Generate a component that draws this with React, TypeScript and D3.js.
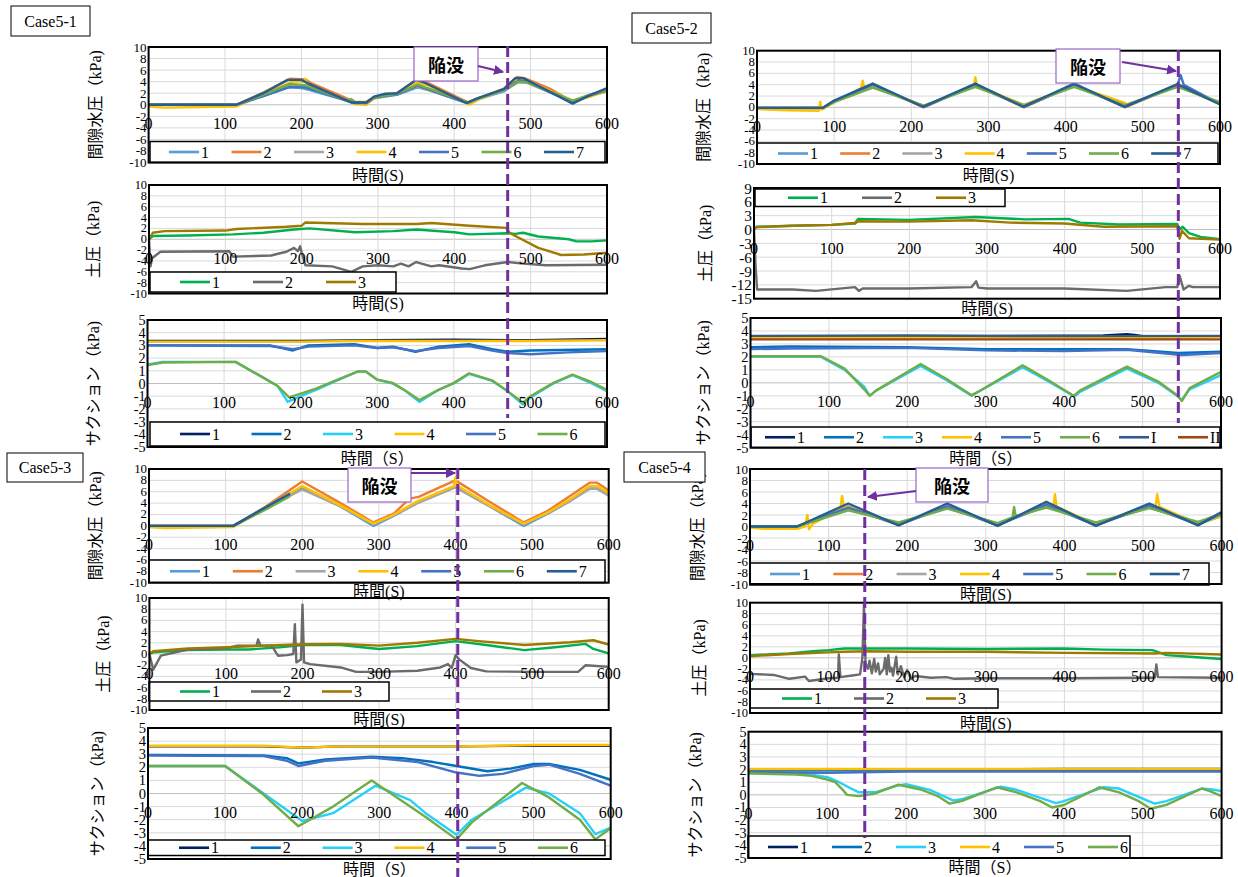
import React from "react";
import * as d3 from "d3";

type Pt = [number, number];

// ---------- axes / labels ----------
const TIME_TICKS = [0, 100, 200, 300, 400, 500, 600];
const PWP_TICKS = [-10, -8, -6, -4, -2, 0, 2, 4, 6, 8, 10];
const EP_TICKS = [-10, -8, -6, -4, -2, 0, 2, 4, 6, 8, 10];
const EP2_TICKS = [-15, -12, -9, -6, -3, 0, 3, 6, 9];
const SU_TICKS = [-5, -4, -3, -2, -1, 0, 1, 2, 3, 4, 5];

const PWP_NAMES = ["1", "2", "3", "4", "5", "6", "7"];
const PWP_COLORS = ["#5B9BD5", "#ED7D31", "#A5A5A5", "#FFC000", "#4472C4", "#70AD47", "#255E91"];
const EP_NAMES = ["1", "2", "3"];
const EP_COLORS = ["#00B050", "#6B6B6B", "#A07A00"];
const SU_NAMES = ["1", "2", "3", "4", "5", "6"];
const SU_COLORS = ["#002060", "#0070C0", "#25D0FA", "#FFC000", "#4472C4", "#70AD47"];
const SU8_NAMES = ["1", "2", "3", "4", "5", "6", "I", "II"];
const SU8_COLORS = ["#002060", "#0070C0", "#25D0FA", "#FFC000", "#4472C4", "#70AD47", "#2F5C8F", "#A0480F"];

const CASE_NAMES = ["Case5-1", "Case5-2", "Case5-3", "Case5-4"];
const COLLAPSE_TIMES = [470, 546, 403, 146];
const COLLAPSE_LABEL = "陥没";

// ---------- Case5-1 ----------
const c51_pwp1: Pt[] = [[0,0],[115,0],[150,1.5],[183,3.0],[200,2.9],[210,2.6],[270,0.3],[285,0.3],[295,1.1],[325,1.7],[352,3.0],[365,2.6],[418,0.2],[430,0.9],[465,2.3],[484,4.0],[495,3.9],[525,2.2],[555,0.4],[575,1.4],[600,2.4]];
const c51_pwp2: Pt[] = [[0,0],[115,0],[150,2.1],[185,4.5],[205,4.4],[212,3.8],[270,0.5],[285,0.5],[295,1.3],[325,2.0],[352,4.4],[362,4.0],[418,0.4],[430,1.0],[465,2.8],[482,4.8],[492,4.6],[525,2.8],[555,0.5],[575,1.6],[600,2.6]];
const c51_pwp3: Pt[] = [[0,0],[115,0],[150,1.6],[185,3.3],[205,3.1],[270,0.4],[285,0.4],[295,1.2],[325,1.8],[352,3.2],[418,0.3],[430,1.0],[465,2.5],[484,3.9],[495,3.8],[555,0.6],[575,1.5],[600,2.3]];
const c51_pwp4: Pt[] = [[0,-0.3],[20,-0.5],[115,-0.3],[150,1.8],[188,4.0],[203,4.0],[205,4.5],[208,3.6],[270,0.1],[285,0.0],[295,1.1],[325,1.9],[352,3.8],[365,3.4],[420,0.0],[430,0.8],[465,2.6],[484,4.3],[495,4.1],[555,0.7],[575,1.3],[600,2.4]];
const c51_pwp5: Pt[] = [[0,0],[115,0],[150,1.5],[185,3.1],[205,3.0],[270,0.3],[285,0.3],[295,1.2],[325,1.8],[352,3.3],[418,0.3],[430,1.0],[465,2.6],[484,4.2],[495,4.0],[555,0.4],[575,1.5],[600,2.5]];
const c51_pwp6: Pt[] = [[0,0],[115,0],[150,1.7],[185,3.6],[205,3.4],[262,0.6],[265,1.0],[270,0.5],[285,0.4],[295,1.3],[325,1.9],[352,3.5],[418,0.4],[430,1.0],[465,2.6],[484,4.0],[495,3.9],[555,0.7],[575,1.6],[600,2.6]];
const c51_pwp7: Pt[] = [[0,0],[115,0],[150,2.0],[182,4.3],[200,4.3],[210,3.6],[265,0.4],[285,0.4],[295,1.4],[310,1.9],[325,2.0],[350,4.3],[360,3.9],[416,0.3],[430,1.1],[465,2.7],[480,4.6],[490,4.6],[520,2.6],[555,0.2],[575,1.5],[600,2.9]];

const c51_ep1: Pt[] = [[0,0],[5,0.6],[50,0.7],[110,0.9],[150,1.2],[190,1.8],[210,2.0],[270,1.3],[320,1.5],[350,1.8],[400,1.3],[420,0.9],[470,1.1],[480,1.0],[490,1.2],[510,0.5],[550,0.0],[560,-0.4],[580,-0.4],[600,-0.2]];
const c51_ep2: Pt[] = [[0,0],[2,-5.0],[4,-3.5],[15,-2.3],[105,-2.2],[110,-3.2],[160,-3.0],[180,-2.3],[190,-1.6],[195,-2.2],[198,-1.3],[200,-2.5],[205,-4.8],[240,-5.0],[265,-6.0],[280,-5.0],[300,-4.8],[320,-5.0],[330,-4.5],[340,-5.0],[350,-4.2],[370,-5.0],[380,-4.8],[410,-5.4],[420,-5.5],[440,-4.8],[470,-4.2],[490,-4.5],[520,-4.8],[600,-4.7]];
const c51_ep3: Pt[] = [[0,0],[5,1.2],[20,1.5],[100,1.6],[115,1.9],[180,2.3],[200,2.5],[205,3.1],[280,2.8],[350,2.8],[370,3.0],[420,2.5],[468,2.1],[472,1.2],[480,0.6],[510,-1.6],[540,-2.9],[570,-2.8],[600,-2.5]];

const c51_s1: Pt[] = [[0,3.35],[100,3.35],[200,3.35],[300,3.4],[400,3.45],[500,3.4],[600,3.5]];
const c51_s2: Pt[] = [[0,3.0],[160,3.0],[190,2.6],[210,3.0],[270,3.1],[300,2.8],[320,2.9],[350,2.5],[380,2.9],[420,3.1],[450,2.7],[470,2.5],[500,2.6],[600,2.7]];
const c51_s3: Pt[] = [[0,1.5],[20,1.7],[115,1.7],[150,0.5],[170,-0.2],[183,-1.45],[200,-1.0],[220,-0.5],[250,0.3],[275,0.95],[285,0.95],[300,0.3],[320,0.0],[335,-0.5],[355,-1.45],[380,-0.5],[400,0.0],[420,0.75],[450,0.2],[470,-0.6],[490,-1.65],[500,-1.1],[530,0.0],[555,0.65],[580,0.0],[600,-0.6]];
const c51_s4: Pt[] = [[0,3.3],[100,3.3],[200,3.3],[280,3.35],[400,3.35],[500,3.35],[600,3.4]];
const c51_s5: Pt[] = [[0,3.0],[160,2.95],[190,2.7],[210,2.9],[270,3.0],[300,2.8],[320,2.85],[350,2.55],[380,2.8],[420,2.95],[450,2.6],[470,2.4],[500,2.3],[550,2.45],[600,2.55]];
const c51_s6: Pt[] = [[0,1.45],[20,1.65],[115,1.7],[150,0.5],[170,-0.2],[185,-1.1],[200,-0.8],[220,-0.4],[250,0.35],[275,0.95],[285,0.95],[300,0.3],[320,0.05],[335,-0.5],[355,-1.3],[380,-0.5],[400,0.05],[420,0.8],[450,0.25],[470,-0.6],[490,-1.5],[500,-1.0],[530,0.05],[555,0.7],[580,0.1],[600,-0.5]];

// ---------- Case5-2 ----------
const c52_pwp1: Pt[] = [[0,-0.1],[85,-0.1],[100,1.0],[150,3.9],[216,0.1],[283,3.9],[346,0.1],[411,3.9],[477,0.1],[545,3.8],[600,0.6]];
const c52_pwp2: Pt[] = [[0,-0.1],[85,-0.1],[100,1.1],[150,4.0],[216,0.0],[283,4.0],[346,0.0],[411,4.0],[477,0.0],[545,4.0],[600,0.6]];
const c52_pwp3: Pt[] = [[0,-0.2],[85,-0.2],[100,1.0],[150,3.8],[216,0.2],[283,3.8],[346,0.2],[411,3.8],[477,0.3],[545,3.8],[600,0.7]];
const c52_pwp4: Pt[] = [[0,-0.3],[40,-0.5],[80,-0.6],[82,1.0],[84,-0.4],[100,0.9],[135,3.4],[137,4.7],[139,3.5],[150,3.9],[216,0.2],[281,3.8],[283,5.3],[285,3.9],[346,0.4],[360,1.2],[411,3.8],[477,0.8],[480,0.4],[545,3.7],[600,0.8]];
const c52_pwp5: Pt[] = [[0,-0.1],[85,-0.1],[100,1.1],[150,4.0],[216,0.1],[283,4.0],[346,0.1],[411,4.0],[477,0.1],[545,4.0],[549,5.7],[553,4.0],[600,0.6]];
const c52_pwp6: Pt[] = [[0,-0.1],[85,-0.1],[100,0.9],[150,3.5],[216,0.3],[283,3.6],[346,0.4],[411,3.6],[477,0.4],[545,3.6],[600,0.9]];
const c52_pwp7: Pt[] = [[0,-0.1],[85,-0.1],[100,1.2],[150,4.2],[215,0.1],[283,4.2],[345,0.1],[411,4.2],[476,0.1],[545,4.1],[600,0.5]];

const c52_ep1: Pt[] = [[0,0],[3,0.6],[50,0.8],[100,1.0],[130,1.3],[134,2.3],[200,2.1],[285,2.7],[350,2.2],[405,2.3],[420,1.5],[470,1.1],[545,1.2],[548,0.0],[552,0.6],[560,-0.8],[575,-1.6],[600,-2.1]];
const c52_ep2: Pt[] = [[0,0],[2,-8],[4,-13.0],[50,-13.0],[80,-13.3],[130,-12.5],[135,-13.3],[140,-12.8],[200,-12.8],[280,-12.5],[286,-11.2],[289,-12.6],[300,-12.8],[400,-12.8],[480,-13.3],[530,-12.5],[545,-12.5],[548,-10.0],[553,-13.0],[560,-12.2],[565,-12.5],[600,-12.5]];
const c52_ep3: Pt[] = [[0,0],[3,0.5],[50,0.8],[100,1.0],[130,1.4],[135,1.8],[200,1.7],[280,2.0],[330,1.5],[400,1.3],[450,0.6],[545,0.7],[548,-2.0],[551,-0.3],[560,-1.9],[600,-2.2]];

const c52_s1: Pt[] = [[0,3.55],[100,3.6],[200,3.6],[300,3.6],[450,3.65],[480,3.75],[490,3.7],[500,3.6],[600,3.6]];
const c52_s2: Pt[] = [[0,2.75],[50,2.8],[200,2.75],[300,2.6],[400,2.6],[480,2.6],[545,2.3],[600,2.4]];
const c52_s3: Pt[] = [[0,2.0],[90,2.0],[120,1.0],[145,-0.3],[152,-1.0],[160,-0.6],[217,1.3],[250,0.2],[282,-1.0],[290,-0.7],[347,1.2],[380,0.1],[413,-1.05],[420,-0.7],[480,1.1],[520,0.0],[544,-1.0],[550,-1.3],[560,-0.5],[600,0.6]];
const c52_s4: Pt[] = [[0,3.5],[200,3.5],[400,3.5],[540,3.45],[600,3.55]];
const c52_s5: Pt[] = [[0,2.6],[50,2.65],[200,2.7],[300,2.5],[400,2.45],[480,2.55],[550,2.15],[600,2.3]];
const c52_s6: Pt[] = [[0,2.05],[90,2.05],[120,1.1],[145,-0.5],[152,-1.0],[160,-0.6],[217,1.45],[250,0.3],[282,-0.95],[290,-0.7],[347,1.35],[380,0.2],[412,-1.0],[420,-0.6],[480,1.25],[520,0.1],[544,-0.95],[550,-1.4],[560,-0.4],[600,0.85]];
const c52_sI: Pt[] = [[0,3.62],[200,3.65],[400,3.6],[600,3.62]];
const c52_sII: Pt[] = [[0,3.35],[200,3.35],[400,3.35],[600,3.35]];

// ---------- Case5-3 ----------
const c53_pwp1: Pt[] = [[0,0],[110,0],[150,2.8],[200,6.6],[250,3.4],[293,0.0],[320,1.8],[350,4.0],[400,6.8],[445,3.4],[489,0.0],[520,2.1],[550,4.4],[575,6.6],[585,6.6],[600,5.4]];
const c53_pwp2: Pt[] = [[0,0],[110,0],[150,3.2],[200,7.8],[250,4.0],[293,0.6],[320,2.2],[340,4.8],[352,5.1],[380,6.8],[400,8.0],[445,4.2],[489,0.6],[520,2.6],[550,5.3],[575,7.6],[585,7.6],[600,6.2]];
const c53_pwp3: Pt[] = [[0,0],[110,0],[150,2.9],[200,6.4],[250,3.4],[293,0.3],[320,1.9],[350,4.0],[400,6.8],[445,3.4],[489,0.3],[520,2.2],[550,4.4],[575,6.5],[585,6.5],[600,5.3]];
const c53_pwp4: Pt[] = [[0,-0.2],[20,-0.4],[110,-0.2],[150,3.0],[200,7.0],[250,3.6],[293,0.4],[320,2.0],[350,4.3],[398,7.0],[400,8.5],[402,7.1],[445,3.6],[489,0.4],[520,2.3],[550,4.7],[575,7.0],[585,7.0],[600,5.8]];
const c53_pwp5: Pt[] = [[0,0],[110,0],[150,3.0],[184,5.5]];
const c53_pwp6: Pt[] = [[0,0],[110,0],[150,2.7],[184,5.2]];
const c53_pwp7: Pt[] = [[0,0],[110,0],[150,3.1],[184,5.7]];

const c53_ep1: Pt[] = [[0,0],[5,0.3],[50,0.7],[100,0.8],[130,0.8],[170,1.2],[200,1.6],[250,1.6],[300,0.9],[350,1.4],[400,2.3],[440,1.6],[490,0.7],[530,1.2],[570,1.8],[580,0.9],[600,0.1]];
const c53_ep2: Pt[] = [[0,0],[5,-2.8],[15,-0.3],[50,0.8],[100,1.0],[115,1.5],[140,1.5],[142,2.6],[145,1.5],[160,1.5],[163,0.8],[168,-0.3],[180,-0.2],[188,0.0],[190,5.3],[192,-1.5],[198,-1.0],[200,8.8],[202,-1.5],[210,-1.8],[250,-2.4],[270,-3.2],[300,-3.2],[350,-3.0],[380,-2.4],[390,-1.8],[395,-2.5],[400,-0.2],[405,-1.0],[420,-2.5],[440,-3.1],[500,-3.2],[560,-3.2],[570,-2.0],[600,-2.3]];
const c53_ep3: Pt[] = [[0,0],[5,0.5],[50,1.0],[100,1.2],[150,1.5],[200,1.75],[250,1.8],[300,1.5],[350,2.0],[400,2.7],[430,2.3],[490,1.6],[550,2.1],[580,2.45],[600,1.7]];

const c53_s1: Pt[] = [[0,3.6],[150,3.6],[200,3.5],[250,3.6],[400,3.6],[500,3.65],[600,3.65]];
const c53_s2: Pt[] = [[0,2.95],[150,2.9],[180,2.7],[195,2.3],[230,2.6],[290,2.8],[330,2.7],[370,2.4],[400,2.1],[440,1.7],[470,1.9],[500,2.25],[520,2.25],[560,1.8],[600,1.05]];
const c53_s3: Pt[] = [[0,2.1],[100,2.1],[150,0.0],[200,-2.1],[240,-1.5],[295,0.6],[340,-0.5],[360,-1.5],[400,-3.15],[420,-2.0],[490,0.45],[520,0.0],[560,-1.5],[580,-3.1],[600,-2.6]];
const c53_s4: Pt[] = [[0,3.65],[150,3.65],[200,3.5],[250,3.6],[400,3.6],[500,3.7],[600,3.7]];
const c53_s5: Pt[] = [[0,2.9],[150,2.85],[180,2.5],[195,2.1],[230,2.5],[290,2.75],[350,2.4],[400,1.6],[430,1.35],[460,1.5],[500,2.1],[520,2.2],[560,1.5],[600,0.6]];
const c53_s6: Pt[] = [[0,2.1],[100,2.1],[150,-0.1],[195,-2.5],[240,-1.0],[290,1.0],[340,-1.0],[360,-1.8],[400,-3.5],[420,-2.2],[485,0.8],[520,-0.3],[560,-2.0],[580,-3.5],[600,-2.65]];

// ---------- Case5-4 ----------
const c54_pwp1: Pt[] = [[0,0],[60,0],[125,3.2],[189,0.4],[251,3.3],[315,0.3],[377,3.6],[440,0.3],[508,3.4],[570,0.4],[600,1.8]];
const c54_pwp2: Pt[] = [[0,0],[60,0],[125,3.5],[189,0.3],[251,3.6],[315,0.3],[377,3.9],[440,0.3],[508,3.8],[570,0.3],[585,1.5],[600,2.0]];
const c54_pwp3: Pt[] = [[0,0],[60,0],[125,3.0],[189,0.5],[251,3.2],[315,0.5],[377,3.5],[440,0.5],[508,3.3],[570,0.6],[600,1.9]];
const c54_pwp4: Pt[] = [[0,-0.2],[20,-0.4],[60,-0.4],[70,0],[73,2.0],[75,-0.5],[80,0.5],[115,3.0],[117,5.3],[120,3.2],[125,3.4],[189,0.3],[251,3.5],[315,0.2],[375,3.8],[386,3.6],[388,5.6],[390,3.5],[440,0.3],[508,3.6],[516,3.5],[518,5.6],[521,3.4],[570,0.5],[600,1.8]];
const c54_pwp5: Pt[] = [[0,0],[60,0],[125,3.3],[189,0.3],[251,3.5],[315,0.2],[377,3.8],[440,0.2],[508,3.6],[570,0.3],[600,2.2]];
const c54_pwp6: Pt[] = [[0,0],[60,0],[125,2.8],[189,0.7],[251,3.1],[315,0.6],[334,1.6],[336,3.4],[338,1.8],[377,3.3],[440,0.7],[508,3.2],[570,0.8],[600,2.2]];
const c54_pwp7: Pt[] = [[0,0],[60,0],[125,4.0],[189,0.2],[251,4.0],[315,0.1],[377,4.3],[440,0.1],[508,4.0],[570,0.2],[600,2.5]];

const c54_ep1: Pt[] = [[0,0.5],[50,0.8],[80,1.2],[100,1.4],[120,1.7],[200,1.7],[300,1.6],[400,1.7],[450,1.5],[512,1.4],[530,0.5],[560,0.2],[600,-0.2]];
const c54_ep2: Pt[] = [[0,-2.9],[30,-3.1],[50,-3.8],[70,-3.4],[75,-4.2],[100,-3.7],[112,-3.6],[113,0.6],[115,-3.5],[130,-3.2],[140,-3.0],[143,0.0],[145,9.8],[147,-1.0],[150,-2.0],[152,-0.5],[155,-2.8],[158,-0.2],[160,-2.5],[163,-1.0],[165,-3.0],[170,-2.0],[172,0.0],[174,-3.0],[176,0.5],[178,-2.5],[180,-1.8],[182,-3.2],[186,0.2],[188,-3.0],[192,-1.5],[196,-3.5],[200,-2.2],[205,-3.8],[210,-3.3],[230,-3.6],[250,-3.5],[260,-3.8],[300,-3.7],[400,-3.7],[500,-3.6],[515,-3.6],[517,-1.2],[519,-3.5],[600,-3.6]];
const c54_ep3: Pt[] = [[0,0.3],[50,0.7],[100,1.0],[120,1.1],[150,1.2],[200,1.1],[300,1.1],[400,0.9],[515,0.8],[530,0.9],[600,0.6]];

const c54_s1: Pt[] = [[0,2.0],[200,2.0],[400,2.05],[600,2.05]];
const c54_s2: Pt[] = [[0,1.95],[200,1.95],[400,1.95],[600,1.95]];
const c54_s3: Pt[] = [[0,1.7],[50,1.7],[80,1.6],[100,1.4],[115,1.0],[130,0.5],[140,0.2],[160,0.2],[190,0.75],[200,0.85],[230,0.4],[260,-0.45],[270,-0.35],[320,0.65],[340,0.4],[390,-0.65],[400,-0.5],[450,0.6],[470,0.5],[515,-0.7],[530,-0.5],[575,0.5],[590,0.4],[600,0.3]];
const c54_s4: Pt[] = [[0,2.05],[200,2.05],[400,2.05],[600,2.05]];
const c54_s5: Pt[] = [[0,1.8],[100,1.75],[200,1.85],[400,1.85],[600,1.85]];
const c54_s6: Pt[] = [[0,1.7],[60,1.6],[80,1.5],[100,1.2],[110,1.0],[118,0.5],[125,0.0],[140,-0.1],[160,0.1],[190,0.8],[220,0.4],[240,-0.1],[255,-0.7],[270,-0.5],[315,0.6],[340,0.2],[370,-0.5],[385,-1.0],[400,-0.8],[445,0.6],[470,0.2],[495,-0.5],[510,-1.1],[530,-0.8],[575,0.5],[585,0.3],[600,-0.1]];

// ---------- layout ----------
interface LegendCfg { x: number; y: number; w: number; h: number; start: number; step: number; }
interface PanelCfg {
  left: number; right: number; top: number; bottom: number;
  yMin: number; yMax: number; yTicks: number[];
  series: Pt[][]; names: string[]; colors: string[];
  legend: LegendCfg; yLabel: string; yLabelX: number; xLabel: string; xLabelY: number;
}

const YL_PWP = "間隙水圧（kPa)";
const YL_EP = "土圧（kPa)";
const YL_SU = "サクション（kPa)";
const XL_A = "時間(S)";
const XL_B = "時間（S）";

const PANELS: PanelCfg[] = [
  { left: 148.6, right: 607, top: 47, bottom: 162.5, yMin: -10, yMax: 10, yTicks: PWP_TICKS,
    series: [c51_pwp1, c51_pwp2, c51_pwp3, c51_pwp4, c51_pwp5, c51_pwp6, c51_pwp7], names: PWP_NAMES, colors: PWP_COLORS,
    legend: { x: 150, y: 141.5, w: 455, h: 21, start: 169, step: 62.5 }, yLabel: YL_PWP, yLabelX: 95, xLabel: XL_A, xLabelY: 175 },
  { left: 149, right: 607, top: 185, bottom: 293.5, yMin: -10, yMax: 10, yTicks: EP_TICKS,
    series: [c51_ep1, c51_ep2, c51_ep3], names: EP_NAMES, colors: EP_COLORS,
    legend: { x: 150, y: 272, w: 246, h: 20, start: 180, step: 73 }, yLabel: YL_EP, yLabelX: 93, xLabel: XL_A, xLabelY: 303 },
  { left: 147.5, right: 607, top: 320, bottom: 447, yMin: -5, yMax: 5, yTicks: SU_TICKS,
    series: [c51_s1, c51_s2, c51_s3, c51_s4, c51_s5, c51_s6], names: SU_NAMES, colors: SU_COLORS,
    legend: { x: 150, y: 422, w: 455, h: 24, start: 180, step: 71.5 }, yLabel: YL_SU, yLabelX: 93, xLabel: XL_B, xLabelY: 458 },
  { left: 757, right: 1220, top: 50.7, bottom: 164, yMin: -10, yMax: 10, yTicks: PWP_TICKS,
    series: [c52_pwp1, c52_pwp2, c52_pwp3, c52_pwp4, c52_pwp5, c52_pwp6, c52_pwp7], names: PWP_NAMES, colors: PWP_COLORS,
    legend: { x: 757, y: 143, w: 461, h: 21, start: 778, step: 62.2 }, yLabel: YL_PWP, yLabelX: 703, xLabel: XL_A, xLabelY: 175 },
  { left: 754, right: 1220, top: 188, bottom: 298.7, yMin: -15, yMax: 9, yTicks: EP2_TICKS,
    series: [c52_ep1, c52_ep2, c52_ep3], names: EP_NAMES, colors: EP_COLORS,
    legend: { x: 755, y: 189, w: 250, h: 17.5, start: 788, step: 74 }, yLabel: YL_EP, yLabelX: 705, xLabel: XL_A, xLabelY: 308 },
  { left: 750.5, right: 1221, top: 318, bottom: 447.7, yMin: -5, yMax: 5, yTicks: SU_TICKS,
    series: [c52_s1, c52_s2, c52_s3, c52_s4, c52_s5, c52_s6, c52_sI, c52_sII], names: SU8_NAMES, colors: SU8_COLORS,
    legend: { x: 751, y: 427, w: 469, h: 20.5, start: 765, step: 59 }, yLabel: YL_SU, yLabelX: 703, xLabel: XL_B, xLabelY: 458 },
  { left: 149, right: 608.7, top: 469, bottom: 582.7, yMin: -10, yMax: 10, yTicks: PWP_TICKS,
    series: [c53_pwp1, c53_pwp2, c53_pwp3, c53_pwp4, c53_pwp5, c53_pwp6, c53_pwp7], names: PWP_NAMES, colors: PWP_COLORS,
    legend: { x: 149, y: 560, w: 456, h: 22.5, start: 170, step: 62.8 }, yLabel: YL_PWP, yLabelX: 95, xLabel: XL_A, xLabelY: 591 },
  { left: 149.4, right: 608.7, top: 598, bottom: 710, yMin: -10, yMax: 10, yTicks: EP_TICKS,
    series: [c53_ep1, c53_ep2, c53_ep3], names: EP_NAMES, colors: EP_COLORS,
    legend: { x: 149, y: 682, w: 240, h: 19, start: 180, step: 71 }, yLabel: YL_EP, yLabelX: 103, xLabel: XL_A, xLabelY: 719 },
  { left: 148, right: 610.7, top: 728, bottom: 859, yMin: -5, yMax: 5, yTicks: SU_TICKS,
    series: [c53_s1, c53_s2, c53_s3, c53_s4, c53_s5, c53_s6], names: SU_NAMES, colors: SU_COLORS,
    legend: { x: 148, y: 840, w: 457, h: 15.5, start: 179, step: 71.8 }, yLabel: YL_SU, yLabelX: 97, xLabel: XL_B, xLabelY: 869 },
  { left: 750, right: 1221.6, top: 469, bottom: 584, yMin: -10, yMax: 10, yTicks: PWP_TICKS,
    series: [c54_pwp1, c54_pwp2, c54_pwp3, c54_pwp4, c54_pwp5, c54_pwp6, c54_pwp7], names: PWP_NAMES, colors: PWP_COLORS,
    legend: { x: 750, y: 563, w: 459, h: 22, start: 770, step: 63.3 }, yLabel: YL_PWP, yLabelX: 697, xLabel: XL_A, xLabelY: 594 },
  { left: 750, right: 1221.6, top: 602.7, bottom: 713, yMin: -10, yMax: 10, yTicks: EP_TICKS,
    series: [c54_ep1, c54_ep2, c54_ep3], names: EP_NAMES, colors: EP_COLORS,
    legend: { x: 750, y: 689, w: 248, h: 19, start: 782, step: 72 }, yLabel: YL_EP, yLabelX: 699, xLabel: XL_A, xLabelY: 723 },
  { left: 748.5, right: 1221.6, top: 731.7, bottom: 858, yMin: -5, yMax: 5, yTicks: SU_TICKS,
    series: [c54_s1, c54_s2, c54_s3, c54_s4, c54_s5, c54_s6], names: SU_NAMES, colors: SU_COLORS,
    legend: { x: 748, y: 836, w: 382, h: 22, start: 768, step: 64 }, yLabel: YL_SU, yLabelX: 695, xLabel: XL_B, xLabelY: 867 },
];

const FONT = "'Liberation Serif','Times New Roman','Noto Sans CJK JP',serif";
const PURPLE = "#7030A0";

function Panel({ c }: { c: PanelCfg }) {
  const x = d3.scaleLinear().domain([0, 600]).range([c.left, c.right]);
  const y = d3.scaleLinear().domain([c.yMin, c.yMax]).range([c.bottom, c.top]);
  const line = d3.line<Pt>().x((d) => x(d[0])).y((d) => y(d[1]));
  const lg = c.legend;
  const cx = (c.left + c.right) / 2;
  const cy = (c.top + c.bottom) / 2;
  const spacing = Math.abs(y(c.yTicks[1]) - y(c.yTicks[0]));
  const ytFont = Math.min(16, spacing + 1.5);
  return (
    <g>
      {c.yTicks.map((t) => (
        <line key={"h" + t} x1={c.left} x2={c.right} y1={y(t)} y2={y(t)} stroke={t === 0 ? "#BFBFBF" : "#D9D9D9"} strokeWidth={1} />
      ))}
      {TIME_TICKS.map((t) => (
        <line key={"v" + t} x1={x(t)} x2={x(t)} y1={c.top} y2={c.bottom} stroke="#D9D9D9" strokeWidth={1} />
      ))}
      {c.series.map((s, i) => (
        <path key={"s" + i} d={line(s) || ""} fill="none" stroke={c.colors[i]} strokeWidth={2.4} strokeLinejoin="round" />
      ))}
      <rect x={lg.x} y={lg.y} width={lg.w} height={lg.h} fill="#fff" stroke="#000" strokeWidth={1.5} />
      {c.names.map((n, i) => {
        const lx = lg.start + i * lg.step;
        const ly = lg.y + lg.h / 2;
        return (
          <g key={"l" + i}>
            <line x1={lx} x2={lx + 30} y1={ly} y2={ly} stroke={c.colors[i]} strokeWidth={2.6} />
            <text x={lx + 32} y={ly} dominantBaseline="central" fontFamily={FONT} fontSize={16} fill="#000">{n}</text>
          </g>
        );
      })}
      <rect x={c.left} y={c.top} width={c.right - c.left} height={c.bottom - c.top} fill="none" stroke="#000" strokeWidth={2} />
      {c.yTicks.map((t) => (
        <text key={"yt" + t} x={c.left - 2} y={y(t)} textAnchor="end" dominantBaseline="central" fontFamily={FONT} fontSize={ytFont} fill="#000">{t}</text>
      ))}
      {TIME_TICKS.map((t) => (
        <text key={"xt" + t} x={x(t)} y={y(0) + 19} textAnchor="middle" dominantBaseline="central" fontFamily={FONT} fontSize={16} fill="#000">{t}</text>
      ))}
      <text transform={`translate(${c.yLabelX},${cy}) rotate(-90)`} textAnchor="middle" dominantBaseline="central" fontFamily={FONT} fontSize={16} fill="#000">{c.yLabel}</text>
      <text x={cx} y={c.xLabelY} textAnchor="middle" dominantBaseline="central" fontFamily={FONT} fontSize={16} fill="#000">{c.xLabel}</text>
    </g>
  );
}

// per case: first panel index, dashed line extent, case box, collapse box, arrow
const CASES = [
  { p: 0, y1: 46, y2: 418, box: [11, 6, 79, 30], cbox: [414, 47, 64, 34], arrow: [478, 66, 503, 72] },
  { p: 3, y1: 50, y2: 423, box: [632, 13, 79, 30], cbox: [1056, 49, 64, 34], arrow: [1122, 62, 1176, 71] },
  { p: 6, y1: 468, y2: 877, box: [7, 453, 76, 29], cbox: [348, 468, 63, 34], arrow: [411, 473, 455, 473] },
  { p: 9, y1: 469, y2: 838, box: [624, 452, 81, 30], cbox: [916, 468, 72, 34], arrow: [916, 491, 868, 497] },
];

export default function App() {
  return (
    <svg width={1238} height={877} style={{ position: "absolute", left: 0, top: 0, background: "#fff" }}>
      <defs>
        <marker id="arr" viewBox="0 0 10 10" refX="9" refY="5" markerWidth="5" markerHeight="5" orient="auto">
          <path d="M0,0 L10,5 L0,10 z" fill={PURPLE} />
        </marker>
      </defs>
      <rect x={0} y={0} width={1238} height={877} fill="#fff" />
      {PANELS.map((c, i) => <Panel key={i} c={c} />)}
      {CASES.map((cs, i) => {
        const c = PANELS[cs.p];
        const xs = d3.scaleLinear().domain([0, 600]).range([c.left, c.right]);
        const dx = xs(COLLAPSE_TIMES[i]);
        const [bx, by, bw, bh] = cs.box;
        const [kx, ky, kw, kh] = cs.cbox;
        const [ax1, ay1, ax2, ay2] = cs.arrow;
        return (
          <g key={"case" + i}>
            <rect x={bx} y={by} width={bw} height={bh} fill="#fff" stroke="#000" strokeWidth={1} />
            <text x={bx + bw / 2} y={by + bh / 2} textAnchor="middle" dominantBaseline="central" fontFamily={FONT} fontSize={16} fill="#000">{CASE_NAMES[i]}</text>
            <line x1={dx} x2={dx} y1={cs.y1} y2={cs.y2} stroke={PURPLE} strokeWidth={3} strokeDasharray="11 5" />
            <rect x={kx} y={ky} width={kw} height={kh} fill="#fff" stroke="#9966CC" strokeWidth={1.2} />
            <text x={kx + kw / 2} y={ky + kh / 2} textAnchor="middle" dominantBaseline="central" fontFamily="'Noto Sans CJK JP',sans-serif" fontWeight="bold" fontSize={18} fill="#000">{COLLAPSE_LABEL}</text>
            <line x1={ax1} y1={ay1} x2={ax2} y2={ay2} stroke={PURPLE} strokeWidth={2} markerEnd="url(#arr)" />
          </g>
        );
      })}
    </svg>
  );
}
